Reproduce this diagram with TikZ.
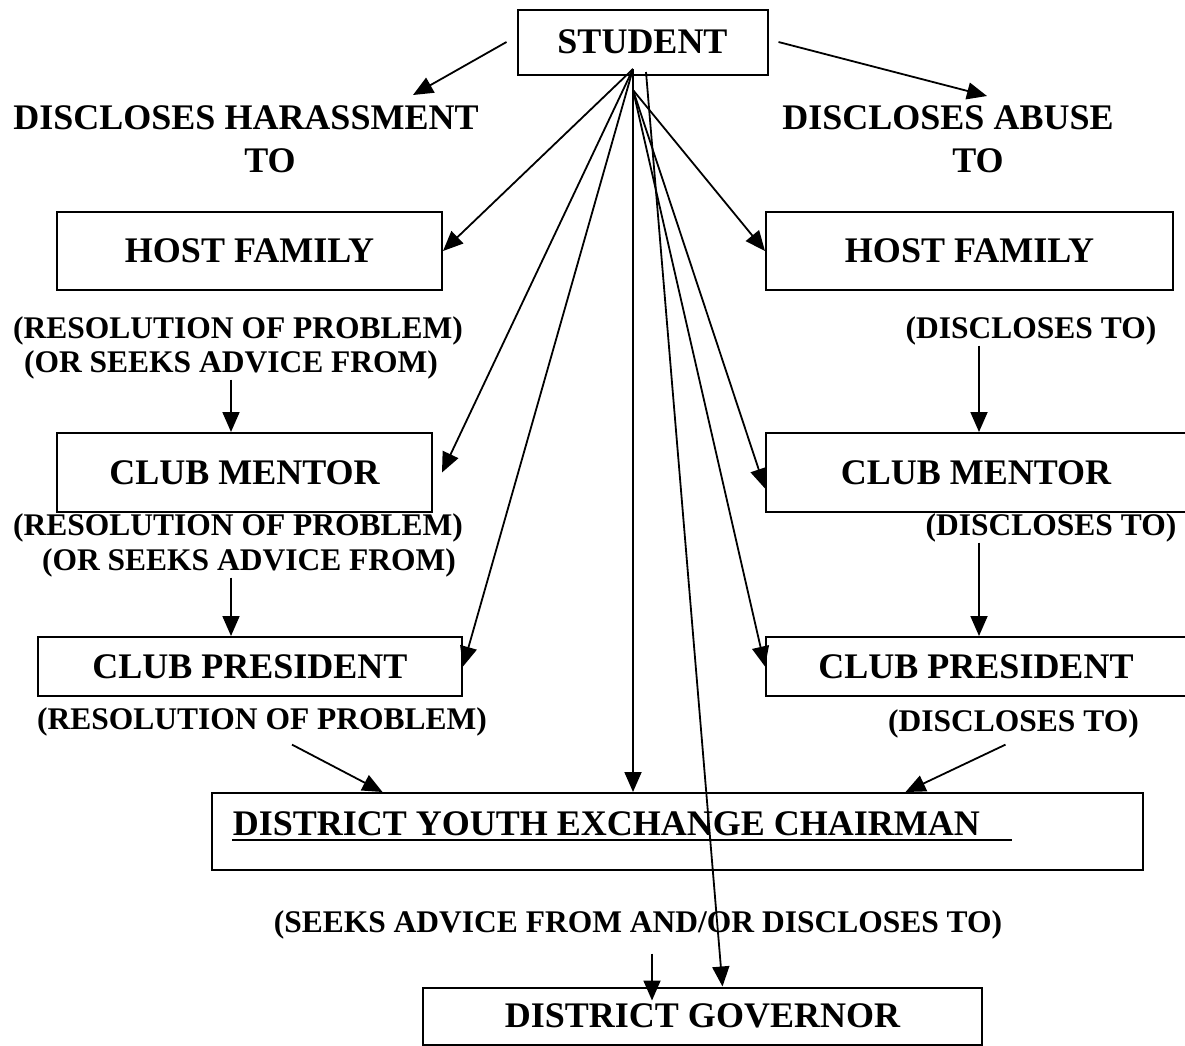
\documentclass[tikz,border=0pt]{standalone}
\usepackage{fontspec}
\setmainfont{Liberation Serif}
\usetikzlibrary{arrows.meta}
\begin{document}
\begin{tikzpicture}[x=1pt, y=-1pt, line width=1.8pt, >={Triangle[length=20pt,width=17pt]},
    box/.style={draw, line width=2pt, inner sep=0pt, font=\fontsize{36}{40}\selectfont\bfseries},
    head/.style={inner sep=0pt, anchor=base, font=\fontsize{36}{40}\selectfont\bfseries},
    lbl/.style={inner sep=0pt, anchor=base, font=\fontsize{31.5}{36}\selectfont\bfseries}]
    \useasboundingbox (0,0) rectangle (1185,1045);
    \node[box, minimum width=250pt, minimum height=65pt] (stu) at (642.5,42) {STUDENT};
    \node[head] (harL) at (246,129) {DISCLOSES HARASSMENT};
    \node[head] (harTo) at (270,172) {TO};
    \node[head] (abu) at (948,129) {DISCLOSES ABUSE};
    \node[head] (abuTo) at (978,172) {TO};
    \node[box, minimum width=385pt, minimum height=78pt] (hfL) at (249.5,251) {HOST FAMILY};
    \node[box, minimum width=407pt, minimum height=78pt] (hfR) at (969.5,251) {HOST FAMILY};
    \node[lbl] (l1) at (238,338) {(RESOLUTION OF PROBLEM)};
    \node[lbl] (l2) at (231,372) {(OR SEEKS ADVICE FROM)};
    \node[lbl] (r1) at (1031,338) {(DISCLOSES TO)};
    \node[box, minimum width=375pt, minimum height=79pt] (cmL) at (244.5,472.5) {CLUB MENTOR};
    \node[box, minimum width=420pt, minimum height=79pt] (cmR) at (976,472.5) {CLUB MENTOR};
    \node[lbl] (l3) at (238,535) {(RESOLUTION OF PROBLEM)};
    \node[lbl] (l4) at (249,570) {(OR SEEKS ADVICE FROM)};
    \node[lbl] (r2) at (1051,535) {(DISCLOSES TO)};
    \node[box, minimum width=424pt, minimum height=59pt] (cpL) at (250,666.5) {CLUB PRESIDENT};
    \node[box, minimum width=420pt, minimum height=59pt] (cpR) at (976,666.5) {CLUB PRESIDENT};
    \node[lbl] (l5) at (262,729) {(RESOLUTION OF PROBLEM)};
    \node[lbl] (r3) at (1013.5,731) {(DISCLOSES TO)};
    \node[box, minimum width=931pt, minimum height=77pt] (dyec) at (677.5,831.5) {};
    \node[head, anchor=base west] (dyecT) at (232,835) {DISTRICT YOUTH EXCHANGE CHAIRMAN};
    \draw ([yshift=-5pt]dyecT.base west) -- ++(780,0);
    \node[lbl] (bot) at (638,932) {(SEEKS ADVICE FROM AND/OR DISCLOSES TO)};
    \node[box, minimum width=559pt, minimum height=57pt] (gov) at (702.5,1016) {DISTRICT GOVERNOR};
    \coordinate (fan) at (633,69);
    \coordinate (fanR) at (633,90);
    \coordinate (gtop) at (646,72);
    \coordinate (harTip) at (413,95);
    \coordinate (abuTip) at (987,96);
    \coordinate (rv) at (979,0);
    \draw[->] ([xshift=-10pt]stu.west) -- (harTip);
    \draw[->] ([xshift=10pt]stu.east) -- (abuTip);
    \draw[->] (fan) -- (hfL.east);
    \draw[->] (fan) -- ([xshift=9pt]cmL.east);
    \draw[->] (fan) -- (cpL.east);
    \draw[->] (fan) -- (fan |- dyec.north);
    \draw[->] (fanR) -- (hfR.west);
    \draw[->] (fanR) -- ([yshift=-16pt]cmR.west);
    \draw[->] (fanR) -- (cpR.west);
    \draw[->] (gtop) -- ([xshift=20pt]gov.north);
    \draw[->] (l2.south) -- (l2.south |- cmL.north);
    \draw[->] (l2.south |- l4.south) -- (l2.south |- cpL.north);
    \draw[->] (rv |- r1.south) -- (rv |- cmR.north);
    \draw[->] (rv |- r2.south) -- (rv |- cpR.north);
    \draw[->] ([xshift=30pt,yshift=-8pt]l5.south) -- ([xshift=-295pt]dyec.north);
    \draw[->] ([xshift=-8pt,yshift=-6pt]r3.south) -- ([xshift=228pt]dyec.north);
    \draw[->] ([xshift=14pt,yshift=-14pt]bot.south) -- ([xshift=14pt,yshift=-14pt]bot.south |- gov.north);
\end{tikzpicture}
\end{document}
